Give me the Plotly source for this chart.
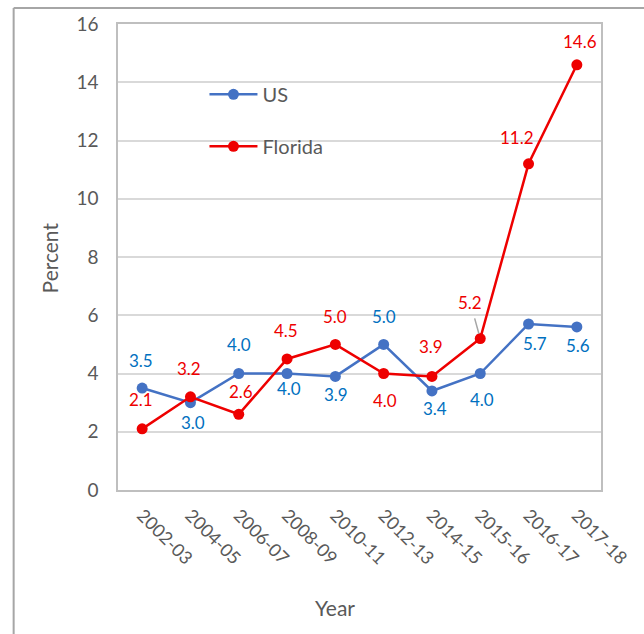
import plotly.graph_objects as go

# School years and percentages for each series
years = ["2002-03", "2004-05", "2006-07", "2008-09", "2010-11",
         "2012-13", "2014-15", "2015-16", "2016-17", "2017-18"]
us_values = [3.5, 3.0, 4.0, 4.0, 3.9, 5.0, 3.4, 4.0, 5.7, 5.6]
florida_values = [2.1, 3.2, 2.6, 4.5, 5.0, 4.0, 3.9, 5.2, 11.2, 14.6]

# Pixel offsets (dx, dy) of each value label from its marker; dy>0 is downward
us_label_offsets = [(-1, -28), (3, 20), (0, -29), (2, 15), (1, 18),
                    (0, -28), (3, 18), (2, 26), (6, 20), (1, 19)]
florida_label_offsets = [(-1, -29), (-1, -28), (2, -23), (-1, -28), (0, -28),
                         (1, 27), (-1, -30), (-10, -36), (-12, -26), (3, -23)]
# labels drawn with a leader line back to the marker
florida_leader = {7}

FONT = "Lato, 'Open Sans', sans-serif"
AXIS_GREY = "#595959"
US_LINE = "#4472C4"
US_TEXT = "#0070C0"
FL_LINE = "#EE0000"
FL_TEXT = "#EE0000"

# Plot-area geometry in pixels, used to place paper-referenced items
PL, PR, PT, PB = 118, 604, 22, 490
PW, PH = PR - PL, PB - PT


def px_x(x):
    return (x - PL) / PW


def px_y(y):
    return (PB - y) / PH


fig = go.Figure()
fig.add_trace(go.Scatter(
    x=years, y=us_values, name="US", mode="lines+markers",
    legendgroup="us",
    line=dict(color=US_LINE, width=2.5),
    marker=dict(color=US_LINE, size=11),
))
fig.add_trace(go.Scatter(
    x=years, y=florida_values, name="Florida", mode="lines+markers",
    legendgroup="fl",
    line=dict(color=FL_LINE, width=2.5),
    marker=dict(color=FL_LINE, size=11),
))

annotations = []
for yr, v, (dx, dy) in zip(years, us_values, us_label_offsets):
    annotations.append(dict(
        x=yr, y=v, xref="x", yref="y", text=f"{v:.1f}", showarrow=False,
        xshift=dx, yshift=-dy, font=dict(family=FONT, size=17, color=US_TEXT),
    ))
for i, (yr, v, (dx, dy)) in enumerate(zip(years, florida_values, florida_label_offsets)):
    if i in florida_leader:
        annotations.append(dict(
            x=yr, y=v, xref="x", yref="y", text=f"{v:.1f}", showarrow=True,
            ax=dx, ay=dy, arrowhead=0, arrowwidth=1.5, arrowcolor="#a6a6a6",
            standoff=5, startstandoff=4,
            font=dict(family=FONT, size=17, color=FL_TEXT),
        ))
    else:
        annotations.append(dict(
            x=yr, y=v, xref="x", yref="y", text=f"{v:.1f}", showarrow=False,
            xshift=dx, yshift=-dy, font=dict(family=FONT, size=17, color=FL_TEXT),
        ))

# Axis titles
annotations.append(dict(
    text="Year", xref="paper", yref="paper", x=px_x(336), y=px_y(608),
    showarrow=False, font=dict(family=FONT, size=21, color=AXIS_GREY),
    xanchor="center", yanchor="middle",
))
annotations.append(dict(
    text="Percent", xref="paper", yref="paper", x=px_x(50), y=px_y(257),
    showarrow=False, textangle=-90, font=dict(family=FONT, size=21, color=AXIS_GREY),
    xanchor="center", yanchor="middle",
))

# Outer chart frame (left and top edges)
shapes = [
    dict(type="line", xref="paper", yref="paper",
         x0=px_x(13), x1=px_x(13), y0=px_y(640), y1=px_y(6),
         line=dict(color="#a6a6a6", width=2)),
    dict(type="line", xref="paper", yref="paper",
         x0=px_x(13), x1=px_x(650), y0=px_y(6), y1=px_y(6),
         line=dict(color="#a6a6a6", width=2)),
]

fig.update_layout(
    width=644, height=634,
    margin=dict(l=PL, r=644 - PR, t=PT, b=634 - PB),
    paper_bgcolor="white", plot_bgcolor="white",
    font=dict(family=FONT, color=AXIS_GREY),
    showlegend=True,
    legend=dict(
        x=px_x(205), y=px_y(73), xanchor="left", yanchor="top",
        bgcolor="rgba(0,0,0,0)", font=dict(family=FONT, size=20, color=AXIS_GREY),
        traceorder="grouped", tracegroupgap=23, itemwidth=48,
    ),
    annotations=annotations,
    shapes=shapes,
)
fig.update_xaxes(
    type="category", range=[-0.5, 9.5], tickangle=45,
    tickfont=dict(family=FONT, size=18, color=AXIS_GREY),
    showline=True, mirror=True, linecolor="#bfbfbf", linewidth=1.5,
    showgrid=False, ticks="", ticklabelstandoff=6,
)
fig.update_yaxes(
    range=[0, 16], dtick=2, tickfont=dict(family=FONT, size=19, color=AXIS_GREY),
    showline=True, mirror=True, linecolor="#bfbfbf", linewidth=1.5,
    showgrid=True, gridcolor="#d9d9d9", gridwidth=1.5, zeroline=False,
    ticks="", ticklabelstandoff=14,
)

fig.write_html("out.html")
